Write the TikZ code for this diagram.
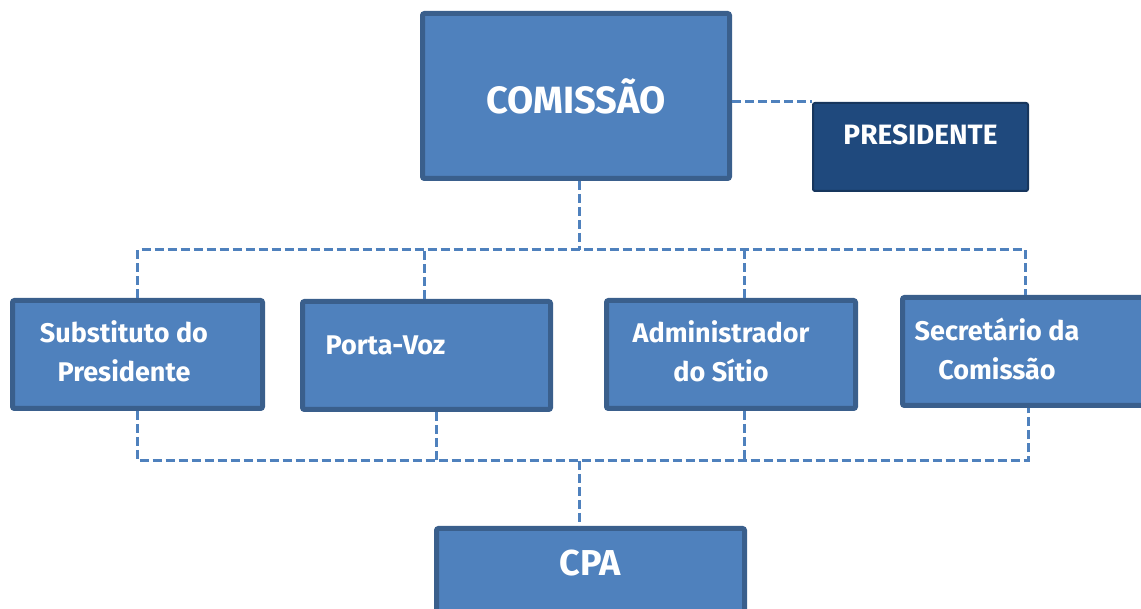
\documentclass[tikz,border=0pt]{standalone}
\usepackage{fontspec}
\setmainfont{Fira Sans}
\usetikzlibrary{calc}
\definecolor{boxfill}{HTML}{4F81BD}
\definecolor{boxline}{HTML}{3A5F8C}
\definecolor{presfill}{HTML}{1F497D}
\definecolor{presline}{HTML}{17365D}
\begin{document}
\begin{tikzpicture}[x=1pt,y=1pt]
			\tikzstyle{unit}=[draw=boxline,fill=boxfill,line width=5pt,rounded corners=2pt,inner sep=0pt]
			\tikzstyle{lbl}=[text=white,font=\bfseries\fontsize{27}{39}\selectfont,align=center,anchor=center]
			\tikzstyle{link}=[draw=boxfill,line width=3pt,dash pattern=on 9pt off 4pt]
			\useasboundingbox (0,0) rectangle (1141,609);
			\clip (0,0) rectangle (1141,609);
			% top: commission and president
			\node [unit,minimum width=307pt,minimum height=165pt,label={[lbl,font=\bfseries\fontsize{38}{40}\selectfont]center:COMISSÃO}] (com) at (576,513) {};
			\node [unit,draw=presline,fill=presfill,line width=2pt,minimum width=215pt,minimum height=88pt,label={[lbl,yshift=12pt,font=\bfseries\fontsize{28}{30}\selectfont]center:PRESIDENTE}] (pres) at (920.5,462) {};
			% middle row
			\node [unit,minimum width=250pt,minimum height=108pt,label={[lbl,xshift=-13.5pt,yshift=3pt]center:Substituto do\\Presidente}] (sub) at (137.5,254.5) {};
			\node [unit,minimum width=248pt,minimum height=108pt,label={[lbl,xshift=-41pt,yshift=10pt]center:Porta-Voz}] (pv) at (426.5,253.5) {};
			\node [unit,minimum width=249pt,minimum height=108pt,label={[lbl,xshift=-10pt,yshift=3pt]center:Administrador\\do Sítio}] (adm) at (731,254.5) {};
			\node [unit,minimum width=249pt,minimum height=108pt,label={[lbl,xshift=-30pt,yshift=3pt]center:Secretário da\\Comissão}] (sec) at (1027,257.5) {};
			% bottom
			\node [unit,minimum width=308pt,minimum height=95pt,label={[lbl,yshift=-37pt,font=\bfseries\fontsize{36}{38}\selectfont]north:CPA}] (cpa) at (590.5,33) {};
			% dashed links
			\coordinate (tbar) at (579,359);
			\coordinate (bbar) at (579,148);
			\draw [link] (com.east |- pres.north west) -- (pres.north west);
			\draw [link] (com.south -| tbar) -- (tbar);
			\draw [link] (sub.north) |- ([xshift=-2pt]sec.north |- tbar) -- ([xshift=-2pt]sec.north);
			\draw [link] ([xshift=-2pt]pv.north) -- ([xshift=-2pt]pv.north |- tbar);
			\draw [link] ([xshift=13pt]adm.north) -- ([xshift=13pt]adm.north |- tbar);
			\draw [link] (sub.south) |- ([xshift=1pt]sec.south |- bbar) -- ([xshift=1pt]sec.south);
			\draw [link] ([xshift=9.5pt]pv.south) -- ([xshift=9.5pt]pv.south |- bbar);
			\draw [link] ([xshift=13pt]adm.south) -- ([xshift=13pt]adm.south |- bbar);
			\draw [link] (bbar) -- (bbar |- cpa.north);
\end{tikzpicture}
\end{document}
